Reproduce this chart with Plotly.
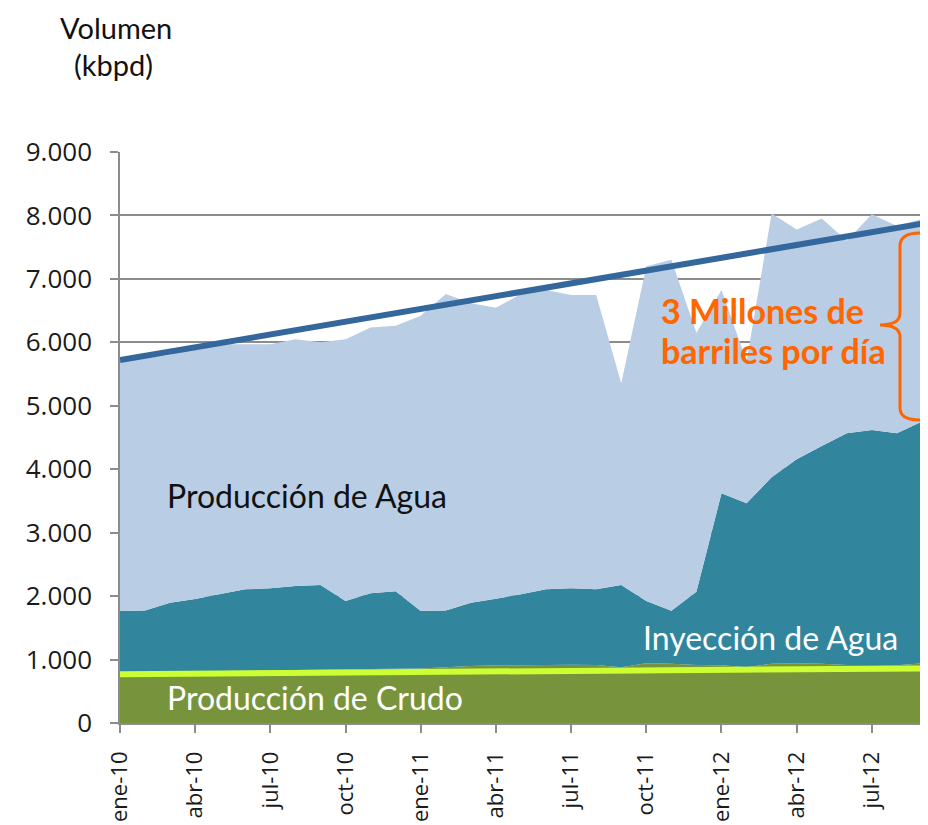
import plotly.graph_objects as go

# ---- data (kbpd), monthly ene-10 .. sep-12 ----
months = ["ene-10", "feb-10", "mar-10", "abr-10", "may-10", "jun-10", "jul-10", "ago-10", "sep-10",
          "oct-10", "nov-10", "dic-10", "ene-11", "feb-11", "mar-11", "abr-11", "may-11", "jun-11",
          "jul-11", "ago-11", "sep-11", "oct-11", "nov-11", "dic-11", "ene-12", "feb-12", "mar-12",
          "abr-12", "may-12", "jun-12", "jul-12", "ago-12", "sep-12"]

produccion_crudo = [800, 805, 810, 815, 820, 825, 830, 835, 840, 845, 850, 855, 860, 880, 900, 910,
                    910, 915, 920, 915, 880, 940, 935, 915, 910, 880, 935, 940, 935, 915, 915, 910, 940]

inyeccion_agua = [965, 970, 1087, 1140, 1213, 1282, 1293, 1325, 1335, 1078, 1194, 1220, 905, 895, 997,
                  1050, 1120, 1192, 1203, 1192, 1295, 983, 835, 1155, 2710, 2583, 2938, 3217, 3431,
                  3651, 3703, 3656, 3810]

produccion_agua = [3935, 3975, 3903, 3975, 3937, 3863, 3847, 3890, 3825, 4127, 4191, 4185, 4655, 4985,
                   4718, 4585, 4730, 4718, 4622, 4638, 3180, 5277, 5530, 4080, 3205, 2237, 4157, 3623,
                   3584, 3034, 3402, 3269, 3195]

tendencia_total = [5720, 7870]      # trend line (ene-10 -> sep-12)
tendencia_crudo = [770, 860]        # crude trend line
tendencia_x = [months[0], months[-1]]

tick_labels = months[::3]
y_ticks = [0, 1000, 2000, 3000, 4000, 5000, 6000, 7000, 8000, 9000]

FONT = "Lato"
TICKFONT = "Open Sans"
OFF = 8                      # page body margin of the browser
W, H = 928 - OFF, 825 - OFF
L, R, T, B = 120 - OFF, 3, 152 - OFF, 102

fig = go.Figure()

fig.add_trace(go.Scatter(x=months, y=produccion_crudo, stackgroup="s", mode="none",
                         fillcolor="#77933C", name="Producción de Crudo", hoverinfo="skip"))
fig.add_trace(go.Scatter(x=months, y=inyeccion_agua, stackgroup="s", mode="none",
                         fillcolor="#31859C", name="Inyección de Agua", hoverinfo="skip"))
fig.add_trace(go.Scatter(x=months, y=produccion_agua, stackgroup="s", mode="none",
                         fillcolor="#B9CDE5", name="Producción de Agua", hoverinfo="skip"))
fig.add_trace(go.Scatter(x=tendencia_x, y=tendencia_crudo, mode="lines",
                         line=dict(color="#CCFF33", width=6), hoverinfo="skip"))
fig.add_trace(go.Scatter(x=tendencia_x, y=tendencia_total, mode="lines",
                         line=dict(color="#34679C", width=6), hoverinfo="skip"))

fig.update_xaxes(type="category", categoryorder="array", categoryarray=months,
                 range=[0, 32.12], tickmode="array", tickvals=tick_labels, ticktext=tick_labels,
                 tickangle=-90, ticks="outside", ticklen=8, tickcolor="#8c8c8c", tickwidth=1.5,
                 showline=True, linecolor="#8c8c8c", linewidth=1.5, showgrid=False,
                 automargin=False, ticklabelstandoff=10,
                 tickfont=dict(family=TICKFONT, size=22, color="#1a1a1a"), zeroline=False)
fig.update_yaxes(range=[0, 9000], tickmode="array", tickvals=y_ticks, tickformat=",d",
                 ticks="outside", ticklen=8, tickcolor="#8c8c8c", tickwidth=1.5,
                 showline=True, linecolor="#8c8c8c", linewidth=1.5,
                 showgrid=True, gridcolor="#8c8c8c", gridwidth=1.5, zeroline=False,
                 automargin=False, ticklabelstandoff=13,
                 tickfont=dict(family=TICKFONT, size=26, color="#1a1a1a"))

pw = W - L - R
ph = H - T - B


def px(x, y):
    # window pixel -> paper coordinates
    return (x - OFF - L) / pw, (H - B - (y - OFF)) / ph


brace_pts = [(920, 233), (900, 233), (900, 246), (900, 313), (900, 325), (880, 325), (900, 325),
             (900, 337), (900, 408), (900, 420), (920, 420)]
p = [px(*q) for q in brace_pts]
path = (f"M {p[0][0]},{p[0][1]} Q {p[1][0]},{p[1][1]} {p[2][0]},{p[2][1]} "
        f"L {p[3][0]},{p[3][1]} Q {p[4][0]},{p[4][1]} {p[5][0]},{p[5][1]} "
        f"Q {p[6][0]},{p[6][1]} {p[7][0]},{p[7][1]} L {p[8][0]},{p[8][1]} "
        f"Q {p[9][0]},{p[9][1]} {p[10][0]},{p[10][1]}")
fig.add_shape(type="path", path=path, xref="paper", yref="paper",
              line=dict(color="#FF6600", width=3))


def ann(text, x, y, size, color, xanchor="left", weight="normal"):
    ax, ay = px(x, y)
    fig.add_annotation(text=text, x=ax, y=ay, xref="paper", yref="paper", showarrow=False,
                       xanchor=xanchor, yanchor="middle",
                       font=dict(family=FONT, size=size, color=color, weight=weight))


ann("Volumen", 116, 28, 29, "#111111", xanchor="center")
ann("(kbpd)", 113, 64, 29, "#111111", xanchor="center")
ann("Producción de Agua", 165, 496, 32, "#111111")
ann("Inyección de Agua", 641, 637, 32, "#ffffff")
ann("Producción de Crudo", 165, 697, 32, "#ffffff")
ann("3 Millones de", 659, 310, 34, "#FF6600", weight="bold")
ann("barriles por día", 659, 350, 34, "#FF6600", weight="bold")

fig.update_layout(width=W, height=H, margin=dict(l=L, r=R, t=T, b=B, pad=0),
                  paper_bgcolor="white", plot_bgcolor="white", showlegend=False,
                  separators=",.", font=dict(family=FONT))

fig.write_html("out.html")
